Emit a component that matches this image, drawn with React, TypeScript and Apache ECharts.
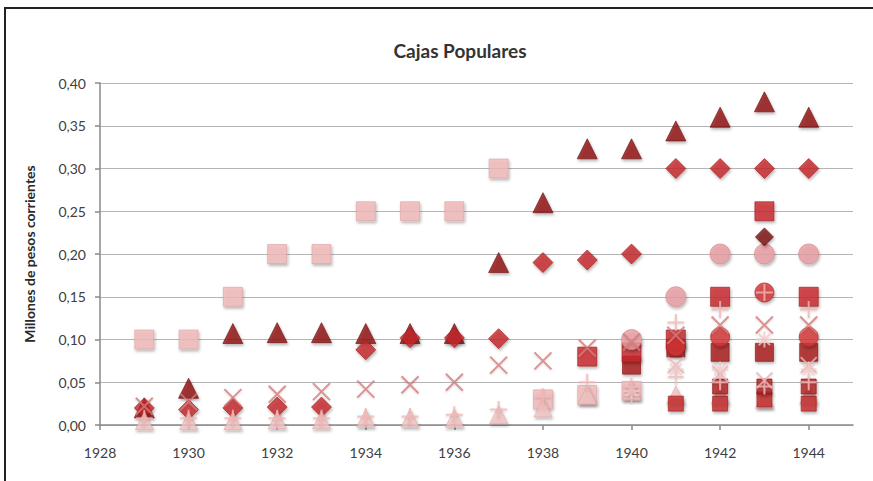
import React, { useEffect, useRef } from "react";
import * as echarts from "echarts";

const years = [1929, 1930, 1931, 1932, 1933, 1934, 1935, 1936, 1937, 1938, 1939, 1940, 1941, 1942, 1943, 1944];

const sqLight = [0.10, 0.10, 0.15, 0.20, 0.20, 0.25, 0.25, 0.25, 0.30, 0.03, 0.035, 0.04, null, null, null, null];
const triDark = [0.02, 0.043, 0.107, 0.108, 0.108, 0.107, 0.107, 0.107, 0.19, 0.26, 0.323, 0.323, 0.344, 0.36, 0.378, 0.36];
const diamondRed = [0.02, 0.018, 0.02, 0.021, 0.021, 0.088, 0.102, 0.102, 0.101, 0.19, 0.193, 0.20, 0.30, 0.30, 0.30, 0.30];
const triLight = [0.005, 0.005, 0.005, 0.006, 0.006, 0.008, 0.008, 0.008, 0.012, 0.02, 0.035, 0.04, 0.035, 0.035, 0.03, 0.035];
const plusLow = [null, null, null, null, null, null, null, null, null, null, null, 0.035, 0.056, 0.05, 0.045, 0.05];
const sqBottom = [null, null, null, null, null, null, null, null, null, null, null, null, 0.025, 0.025, 0.03, 0.025];
const sqMid = [null, null, null, null, null, null, null, null, null, null, null, null, null, 0.045, 0.045, 0.045];
const sqDark = [null, null, null, null, null, null, null, null, null, null, null, 0.07, 0.09, 0.085, 0.085, 0.085];
const sqRed = [null, null, null, null, null, null, null, null, null, null, 0.08, 0.085, 0.10, 0.15, 0.25, 0.15];
const circlePink = [null, null, null, null, null, null, null, null, null, null, null, 0.10, 0.15, 0.20, 0.20, 0.20];
const circleRed = [null, null, null, null, null, null, null, null, null, null, null, null, 0.092, 0.103, 0.155, 0.103];
const diamondDark = [null, null, null, null, null, null, null, null, null, null, null, null, null, null, 0.22, null];
const xPink = [null, null, null, null, null, null, null, null, null, null, null, null, 0.07, 0.06, 0.052, 0.07];
const asterisk = [null, null, null, null, null, null, null, null, null, null, null, 0.04, 0.065, 0.065, 0.10, 0.065];
const xMark = [0.022, 0.027, 0.032, 0.036, 0.039, 0.042, 0.047, 0.05, 0.07, 0.075, 0.09, 0.097, 0.105, 0.117, 0.117, 0.117];
const plusHigh = [0.008, 0.008, 0.008, 0.008, 0.008, 0.01, 0.01, 0.012, 0.018, 0.033, 0.05, 0.045, 0.12, 0.135, 0.155, 0.135];

const X_PATH = "path://M0,0L10,10M10,0L0,10";
const PLUS_PATH = "path://M5,0L5,10M0,5L10,5";
const AST_PATH = "path://M5,0L5,10M0,5L10,5M1.5,1.5L8.5,8.5M8.5,1.5L1.5,8.5";

const shadow = {
  shadowBlur: 3,
  shadowOffsetX: 1,
  shadowOffsetY: 2,
  shadowColor: "rgba(0,0,0,0.35)",
};

function pts(vals: (number | null)[]) {
  return years.map((y, i) => [y, vals[i]]).filter((p) => p[1] !== null);
}

function filled(name: string, vals: (number | null)[], symbol: string, size: number, color: string, border: string) {
  return {
    name,
    type: "scatter",
    data: pts(vals),
    symbol,
    symbolSize: size,
    itemStyle: { color, borderColor: border, borderWidth: 0.8, ...shadow },
  };
}

function stroked(name: string, vals: (number | null)[], symbol: string, size: number, color: string, width: number) {
  return {
    name,
    type: "scatter",
    data: pts(vals),
    symbol,
    symbolSize: size,
    itemStyle: { color: "rgba(0,0,0,0)", borderColor: color, borderWidth: width, shadowBlur: 2, shadowOffsetY: 1, shadowColor: "rgba(0,0,0,0.2)" },
  };
}

export default function App() {
  const ref = useRef<HTMLDivElement>(null);
  useEffect(() => {
    if (!ref.current) return;
    const chart = echarts.init(ref.current, null, { renderer: "svg" });
    chart.setOption({
      animation: false,
      backgroundColor: "#ffffff",
      textStyle: { fontFamily: "Lato" },
      graphic: [
        {
          type: "rect",
          shape: { x: 5, y: 8, width: 900, height: 500 },
          style: { fill: "none", stroke: "#222222", lineWidth: 2 },
          silent: true,
        },
        {
          type: "text",
          x: 460,
          y: 50,
          style: {
            text: "Cajas Populares",
            fontFamily: "Lato",
            fontWeight: "bold",
            fontSize: 19,
            fill: "#333333",
            align: "center",
            verticalAlign: "middle",
          },
        },
      ],
      grid: { left: 100, right: 20, top: 83, bottom: 56 },
      xAxis: {
        type: "value",
        min: 1928,
        max: 1945,
        interval: 2,
        splitLine: { show: false },
        axisLine: { show: true, lineStyle: { color: "#8a8a8a", width: 1.5 } },
        axisTick: { show: true, length: 5, lineStyle: { color: "#8a8a8a", width: 1.5 } },
        axisLabel: {
          margin: 20,
          color: "#404040",
          fontSize: 14,
          fontFamily: "Lato",
          showMaxLabel: false,
          formatter: (v: number) => (v > 1944 ? "" : String(v)),
        },
      },
      yAxis: {
        type: "value",
        min: 0,
        max: 0.4,
        interval: 0.05,
        name: "Millones de pesos corrientes",
        nameLocation: "middle",
        nameGap: 64,
        nameRotate: 90,
        nameTextStyle: { fontFamily: "Lato", fontWeight: "bold", fontSize: 14, color: "#2a2a2a" },
        axisLine: { show: true, lineStyle: { color: "#8a8a8a", width: 1.5 } },
        axisTick: { show: true, length: 5, lineStyle: { color: "#8a8a8a", width: 1.5 } },
        splitLine: { show: true, lineStyle: { color: "#b4b4b4", width: 1.2 } },
        axisLabel: {
          margin: 14,
          color: "#404040",
          fontSize: 14,
          fontFamily: "Lato",
          formatter: (v: number) => v.toFixed(2).replace(".", ","),
        },
      },
      series: [
        filled("A", sqLight, "rect", 19, "#f2b9b9", "#dea0a0"),
        filled("B", triDark, "triangle", 20, "#8e1212", "#6e0a0a"),
        filled("C", diamondRed, "diamond", 20, "#c4282a", "#a01818"),
        filled("D", triLight, "triangle", 18, "#f3c4c4", "#e0aaaa"),
        filled("F", sqBottom, "rect", 15, "#c42a2a", "#a01818"),
        filled("G", sqMid, "rect", 15, "#b01e1e", "#8c1010"),
        stroked("E", plusLow, PLUS_PATH, 16, "#f6c2c2", 2),
        filled("H", sqDark, "rect", 18, "#a81a1a", "#861010"),
        filled("I", sqRed, "rect", 19, "#c8282a", "#a01818"),
        filled("J", circlePink, "circle", 20, "#e89ea2", "#d08888"),
        filled("K", circleRed, "circle", 19, "#d43434", "#b02020"),
        filled("L", diamondDark, "diamond", 18, "#7a0c0c", "#5a0606"),
        stroked("M", xPink, X_PATH, 16, "#f0b4b4", 2),
        stroked("N", asterisk, AST_PATH, 16, "#f4c8c8", 1.8),
        stroked("O", xMark, X_PATH, 17, "#d47a7a", 2),
        stroked("P", plusHigh, PLUS_PATH, 17, "#f4b4b4", 2),
      ],
    });
    return () => chart.dispose();
  }, []);
  return (
    <div
      ref={ref}
      style={{ position: "fixed", left: 0, top: 0, width: 873, height: 481 }}
    />
  );
}
